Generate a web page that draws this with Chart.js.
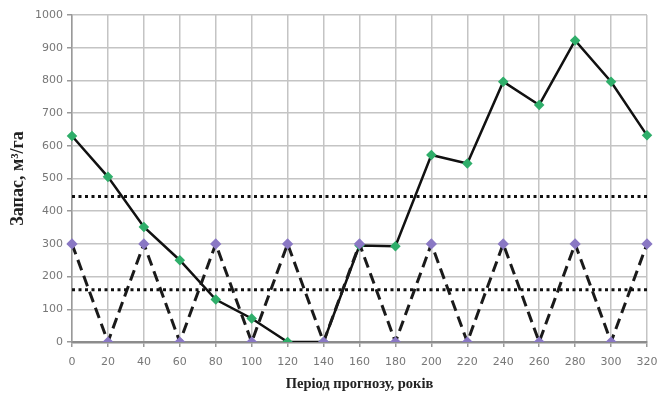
<!DOCTYPE html>
<html>
<head>
<meta charset="utf-8">
<script src="https://cdn.jsdelivr.net/npm/chart.js@4.4.0/dist/chart.umd.min.js"></script>
<style>
    html, body { margin: 0; padding: 0; background: #fff; }
    #wrap { width: 667px; height: 396px; }
</style>
</head>
<body>
<div id="wrap"><canvas id="stockChart" width="667" height="396"></canvas></div>
<script>
// Forecast period, years
var years = [0, 20, 40, 60, 80, 100, 120, 140, 160, 180, 200, 220, 240, 260, 280, 300, 320];
// Growing stock, m3/ha
var stockValues = [630, 505, 352, 250, 130, 72, 0, 0, 295, 293, 572, 546, 796, 725, 922, 796, 632];
var harvestValues = [300, 0, 300, 0, 300, 0, 300, 0, 300, 0, 300, 0, 300, 0, 300, 0, 300];
// Reference levels
var upperLevel = 445;
var lowerLevel = 160;
var yTicks = [0, 100, 200, 300, 400, 500, 600, 700, 800, 900, 1000];

function levelLine(value) {
    return years.map(function() { return value; });
}

function initializeStockChart() {
    var ctx = document.getElementById('stockChart').getContext('2d');

    new Chart(ctx, {
        type: 'line',
        data: {
            labels: years,
            datasets: [{
                label: 'upper',
                data: levelLine(upperLevel),
                borderColor: '#111',
                borderWidth: 3,
                borderDash: [3, 3.5],
                pointRadius: 0,
                fill: false
            }, {
                label: 'lower',
                data: levelLine(lowerLevel),
                borderColor: '#111',
                borderWidth: 3,
                borderDash: [3, 3.5],
                pointRadius: 0,
                fill: false
            }, {
                label: 'harvest',
                data: harvestValues,
                borderColor: '#1a1a1a',
                borderWidth: 3,
                borderDash: [11, 6],
                pointStyle: 'rectRot',
                pointRadius: 3.5,
                pointBackgroundColor: '#8a78c4',
                pointBorderColor: '#8a78c4',
                tension: 0,
                fill: false
            }, {
                label: 'stock',
                data: stockValues,
                borderColor: '#111',
                borderWidth: 2.5,
                pointStyle: 'rectRot',
                pointRadius: 3.5,
                pointBackgroundColor: '#2fae6a',
                pointBorderColor: '#2fae6a',
                tension: 0,
                fill: false
            }]
        },
        options: {
            responsive: false,
            animation: false,
            layout: {
                padding: { left: 0, right: 20, top: 15, bottom: 0 }
            },
            plugins: {
                legend: { display: false },
                tooltip: { enabled: false }
            },
            scales: {
                x: {
                    type: 'category',
                    offset: false,
                    grid: {
                        color: '#c4c4c4',
                        lineWidth: 1.5,
                        tickLength: 5,
                        tickColor: '#999'
                    },
                    border: { color: '#8c8c8c', width: 2.5 },
                    ticks: {
                        color: '#777',
                        font: { family: 'DejaVu Sans', size: 11 },
                        padding: 9,
                        maxRotation: 0,
                        autoSkip: false
                    },
                    title: {
                        display: true,
                        text: 'Період прогнозу, років',
                        color: '#222',
                        font: { family: 'Liberation Serif', size: 14.5, weight: 'bold' },
                        padding: { top: 0, bottom: 3 }
                    },
                    afterFit: function(scale) { scale.height = 54; }
                },
                y: {
                    min: 0,
                    max: 1000,
                    afterBuildTicks: function(scale) {
                        scale.ticks = yTicks.map(function(v) { return { value: v }; });
                    },
                    grid: {
                        color: '#c4c4c4',
                        lineWidth: 1.5,
                        tickLength: 5,
                        tickColor: '#999'
                    },
                    border: { color: '#999', width: 1.5 },
                    ticks: {
                        color: '#777',
                        font: { family: 'DejaVu Sans', size: 11 },
                        padding: 4,
                        callback: function(value) { return String(value); }
                    },
                    title: {
                        display: true,
                        text: 'Запас, м³/га',
                        color: '#222',
                        font: { family: 'Liberation Serif', size: 18, weight: 'bold' },
                        padding: { top: 8, bottom: 0 }
                    },
                    afterFit: function(scale) { scale.width = 72; }
                }
            }
        }
    });
}

document.addEventListener('DOMContentLoaded', function() {
    initializeStockChart();
});
</script>
</body>
</html>
